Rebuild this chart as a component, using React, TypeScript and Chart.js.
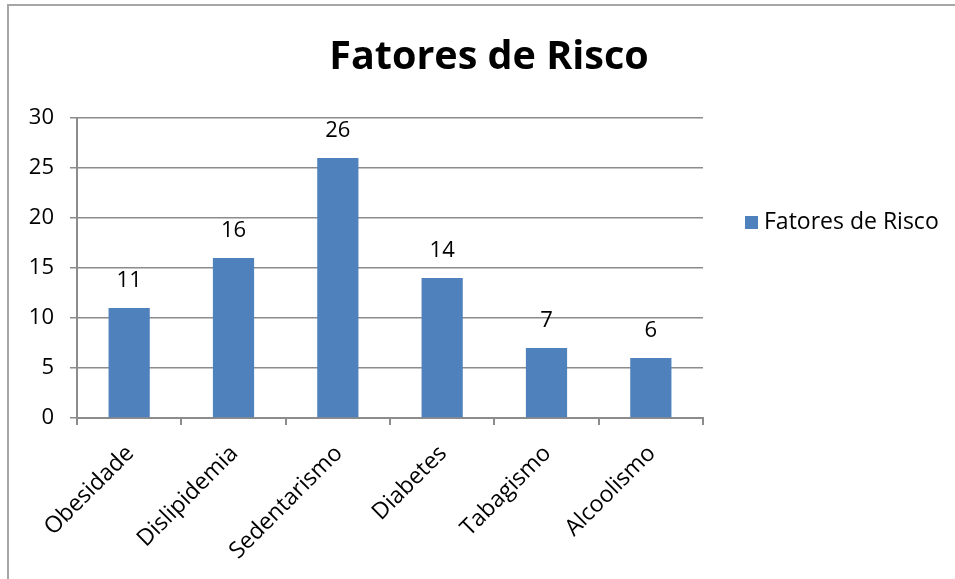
import React, { useEffect, useRef } from "react";
import { Chart, registerables } from "chart.js";

Chart.register(...registerables);

const categories = ["Obesidade", "Dislipidemia", "Sedentarismo", "Diabetes", "Tabagismo", "Alcoolismo"];
const values = [11, 16, 26, 14, 7, 6];
const seriesName = "Fatores de Risco";
const chartTitle = "Fatores de Risco";
const yTicks = [0, 5, 10, 15, 20, 25, 30];

const FONT = "'Open Sans', 'Noto Sans', sans-serif";
const BAR = "#4F81BD";
const GRID = "#8C8C8C";

const decorPlugin = {
  id: "decor",
  afterDraw(chart: any) {
    const ctx = chart.ctx;
    ctx.save();
    // outer border
    ctx.strokeStyle = "#A6A6A6";
    ctx.lineWidth = 2;
    ctx.beginPath();
    ctx.moveTo(8, 579);
    ctx.lineTo(8, 5);
    ctx.lineTo(955, 5);
    ctx.stroke();
    // title
    ctx.fillStyle = "#000";
    ctx.font = `bold 39.5px ${FONT}`;
    ctx.textAlign = "center";
    ctx.textBaseline = "middle";
    ctx.fillText(chartTitle, 489, 58);
    // legend
    ctx.fillStyle = BAR;
    ctx.fillRect(745, 216, 13, 13);
    ctx.fillStyle = "#000";
    ctx.font = `23px ${FONT}`;
    ctx.textAlign = "left";
    ctx.fillText(seriesName, 764, 222);
    // data labels
    const meta = chart.getDatasetMeta(0);
    ctx.textAlign = "center";
    ctx.font = `22px ${FONT}`;
    meta.data.forEach((bar: any, i: number) => {
      ctx.fillText(String(values[i]), bar.x, bar.y - 27);
    });
    ctx.restore();
  },
};

export default function App() {
  const ref = useRef<HTMLCanvasElement>(null);
  useEffect(() => {
    document.body.style.margin = "0";
    const chart = new Chart(ref.current!, {
      type: "bar",
      data: {
        labels: categories,
        datasets: [
          {
            label: seriesName,
            data: values,
            backgroundColor: BAR,
            barPercentage: 0.395,
            categoryPercentage: 1,
          },
        ],
      },
      options: {
        animation: false,
        responsive: false,
        maintainAspectRatio: false,
        layout: { padding: { left: 0, top: 118, right: 252, bottom: 0 } },
        plugins: {
          legend: { display: false },
          title: { display: false },
          tooltip: { enabled: false },
        },
        scales: {
          y: {
            min: 0,
            max: 30,
            afterFit(scale: any) {
              scale.width = 77;
            },
            afterBuildTicks(scale: any) {
              scale.ticks = yTicks.map((v) => ({ value: v }));
            },
            ticks: {
              color: "#000",
              font: { family: FONT, size: 22 },
              padding: 16,
            },
            grid: { color: GRID, lineWidth: 1.5, tickLength: 7 },
            border: { color: GRID, width: 2 },
          },
          x: {
            afterFit(scale: any) {
              scale.height = 579 - 418;
            },
            ticks: {
              color: "#000",
              font: { family: FONT, size: 23 },
              minRotation: 45,
              maxRotation: 45,
              padding: 15,
              labelOffset: 1,
            },
            grid: { drawOnChartArea: false, color: GRID, lineWidth: 2, tickLength: 7, offset: true },
            border: { color: GRID, width: 2 },
          },
        },
      },
      plugins: [decorPlugin],
    });
    return () => chart.destroy();
  }, []);
  return (
    <div style={{ position: "fixed", left: 0, top: 0, width: 955, height: 579, background: "#fff" }}>
      <canvas ref={ref} width={955} height={579} style={{ width: 955, height: 579 }} />
    </div>
  );
}
